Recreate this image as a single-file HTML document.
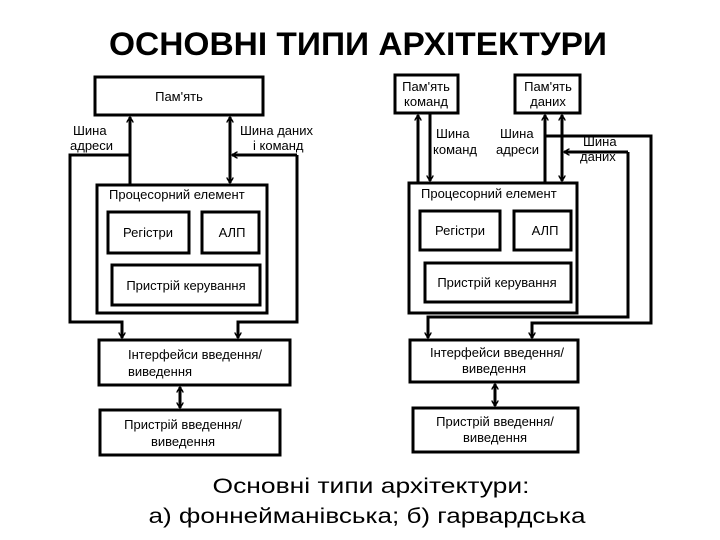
<!DOCTYPE html>
<html><head><meta charset="utf-8"><style>html,body{margin:0;padding:0;background:#fff}svg{display:block}</style></head>
<body>
<svg width="720" height="540" viewBox="0 0 720 540" xmlns="http://www.w3.org/2000/svg" font-family="Liberation Sans, DejaVu Sans, sans-serif">
<defs>
<marker id="a" viewBox="0 0 10 10" refX="9" refY="5" markerWidth="7" markerHeight="7" orient="auto-start-reverse" markerUnits="userSpaceOnUse"><path d="M1,0 L9,5 L1,10" fill="none" stroke="#000" stroke-width="2"/></marker>
</defs>
<text x="358" y="55" font-size="32" font-weight="bold" text-anchor="middle" textLength="498" lengthAdjust="spacingAndGlyphs">ОСНОВНІ ТИПИ АРХІТЕКТУРИ</text>
<g fill="none" stroke="#000" stroke-width="3">
<rect x="95" y="77" width="168" height="38"/>
<rect x="97" y="185" width="170" height="128"/>
<rect x="108" y="212" width="81" height="41"/>
<rect x="202" y="212" width="57" height="41"/>
<rect x="112" y="265" width="148" height="40"/>
<rect x="99" y="340" width="191" height="45"/>
<rect x="100" y="410" width="180" height="45"/>
<line x1="130" y1="185" x2="130" y2="117" marker-end="url(#a)"/>
<polyline points="130,155 70,155 70,322 122,322 122,338" marker-end="url(#a)"/>
<line x1="230" y1="117" x2="230" y2="183" marker-start="url(#a)" marker-end="url(#a)"/>
<polyline points="297,155 297,322 238,322 238,338" marker-end="url(#a)"/>
<line x1="297" y1="155" x2="232" y2="155" marker-end="url(#a)"/>
<line x1="180" y1="387" x2="180" y2="408" marker-start="url(#a)" marker-end="url(#a)"/>
<rect x="395" y="75" width="63" height="38"/>
<rect x="515" y="75" width="65" height="38"/>
<rect x="409" y="183" width="168" height="130"/>
<rect x="420" y="211" width="80" height="39"/>
<rect x="514" y="211" width="57" height="39"/>
<rect x="425" y="263" width="146" height="39"/>
<rect x="410" y="340" width="168" height="42"/>
<rect x="413" y="408" width="165" height="44"/>
<line x1="418" y1="183" x2="418" y2="115" marker-end="url(#a)"/>
<line x1="430" y1="113" x2="430" y2="181" marker-end="url(#a)"/>
<line x1="545" y1="183" x2="545" y2="115" marker-end="url(#a)"/>
<polyline points="545,136 651,136 651,323 532,323 532,338" marker-end="url(#a)"/>
<line x1="562" y1="115" x2="562" y2="181" marker-start="url(#a)" marker-end="url(#a)"/>
<polyline points="628,152 628,317 428,317 428,338" marker-end="url(#a)"/>
<line x1="628" y1="152" x2="564" y2="152" marker-end="url(#a)"/>
<line x1="495" y1="384" x2="495" y2="406" marker-start="url(#a)" marker-end="url(#a)"/>
</g>
<g font-size="13" fill="#000">
<text x="179" y="101" text-anchor="middle">Пам'ять</text>
<text x="73" y="135">Шина</text><text x="70" y="150">адреси</text>
<text x="240" y="135">Шина даних</text><text x="253" y="150">і команд</text>
<text x="109" y="199">Процесорний елемент</text>
<text x="148" y="237" text-anchor="middle">Регістри</text>
<text x="232" y="237" text-anchor="middle">АЛП</text>
<text x="186" y="290" text-anchor="middle">Пристрій керування</text>
<text x="195" y="359" text-anchor="middle">Інтерфейси введення/</text>
<text x="160" y="376" text-anchor="middle">виведення</text>
<text x="183" y="429" text-anchor="middle">Пристрій введення/</text>
<text x="183" y="446" text-anchor="middle">виведення</text>
<text x="426" y="91" text-anchor="middle">Пам'ять</text><text x="426" y="106" text-anchor="middle">команд</text>
<text x="548" y="91" text-anchor="middle">Пам'ять</text><text x="548" y="106" text-anchor="middle">даних</text>
<text x="436" y="138">Шина</text><text x="433" y="154">команд</text>
<text x="500" y="138">Шина</text><text x="496" y="154">адреси</text>
<text x="583" y="146">Шина</text><text x="580" y="161">даних</text>
<text x="421" y="198">Процесорний елемент</text>
<text x="460" y="235" text-anchor="middle">Регістри</text>
<text x="545" y="235" text-anchor="middle">АЛП</text>
<text x="497" y="287" text-anchor="middle">Пристрій керування</text>
<text x="497" y="357" text-anchor="middle">Інтерфейси введення/</text>
<text x="494" y="373" text-anchor="middle">виведення</text>
<text x="495" y="426" text-anchor="middle">Пристрій введення/</text>
<text x="495" y="442" text-anchor="middle">виведення</text>
</g>
<text x="371" y="493" font-size="21" text-anchor="middle" textLength="317" lengthAdjust="spacingAndGlyphs">Основні типи архітектури:</text>
<text x="367" y="523" font-size="21" text-anchor="middle" textLength="437" lengthAdjust="spacingAndGlyphs">а) фоннейманівська; б) гарвардська</text>
</svg>
</body></html>
